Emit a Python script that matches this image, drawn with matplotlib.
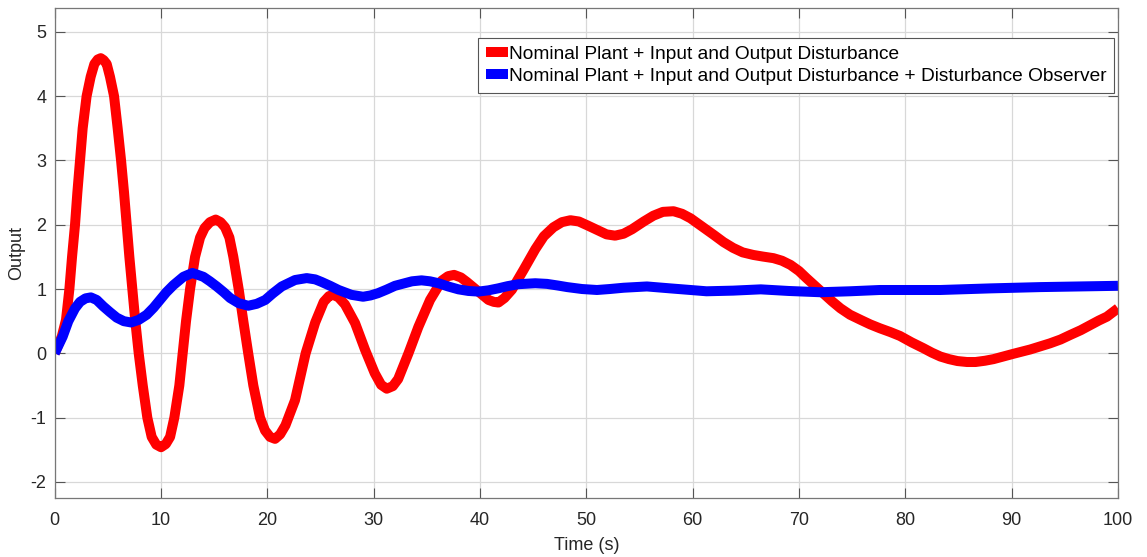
import matplotlib
matplotlib.use("Agg")
import matplotlib.pyplot as plt

# Curva roja: planta nominal + perturbacion de entrada y salida
t_rojo = [0, 0.66, 1.06, 1.38, 1.63, 1.91, 2.13, 2.38, 2.63, 3.0, 3.38, 3.73, 4.05,
          4.33, 4.6, 4.89, 5.2, 5.58, 5.92, 6.24, 6.52, 6.77, 7.02, 7.3, 7.58, 7.9,
          8.28, 8.71, 9.12, 9.55, 10.0, 10.45, 10.85, 11.25, 11.72, 12.04, 12.35,
          12.73, 13.2, 13.67, 14.1, 14.6, 15.14, 15.6, 16.02, 16.43, 16.8, 17.3,
          17.74, 18.2, 18.68, 19.31, 19.78, 20.25, 20.72, 21.2, 21.7, 22.6, 23.6,
          24.5, 25.3, 25.8, 26.2, 26.7, 27.3, 28.25, 29.2, 30.1, 30.7, 31.23, 31.8,
          32.3, 33.27, 34.2, 35.3, 36.4, 37.0, 37.56, 38.2, 38.76, 39.85, 40.8, 41.3,
          41.73, 42.3, 43.0, 44.1, 45.2, 46.0, 46.9, 47.7, 48.5, 49.3, 50.1, 51.0,
          51.9, 52.7, 53.5, 54.3, 55.4, 56.3, 57.2, 58.2, 59.0, 59.8, 60.9, 62.0,
          62.9, 63.8, 64.7, 65.7, 66.6, 67.6, 68.4, 69.2, 70.0, 70.7, 71.5, 72.3,
          73.1, 73.9, 74.8, 75.8, 76.7, 77.6, 78.6, 79.5, 80.6, 81.7, 82.5, 83.3,
          84.1, 84.9, 85.8, 86.6, 87.5, 88.3, 89.2, 90.1, 91.75, 93.6, 94.6, 95.5,
          96.5, 97.4, 98.2, 98.96, 100]
y_rojo = [0, 0.26, 0.52, 1.0, 1.5, 2.0, 2.5, 3.0, 3.5, 4.0, 4.3, 4.5, 4.57,
          4.59, 4.56, 4.5, 4.3, 4.0, 3.5, 3.0, 2.5, 2.0, 1.5, 1.0, 0.5, 0.0,
          -0.5, -1.0, -1.3, -1.42, -1.46, -1.41, -1.3, -1.0, -0.5, 0.0, 0.5,
          1.0, 1.5, 1.8, 1.95, 2.04, 2.08, 2.04, 1.96, 1.8, 1.5, 1.0,
          0.5, 0.0, -0.5, -1.0, -1.2, -1.3, -1.33, -1.26, -1.12, -0.73, 0.0,
          0.48, 0.80, 0.89, 0.91, 0.87, 0.76, 0.47, 0.05, -0.31, -0.49, -0.55, -0.51,
          -0.40, 0.0, 0.41, 0.83, 1.13, 1.2, 1.22, 1.18, 1.11, 0.96, 0.83, 0.8,
          0.79, 0.86, 0.99, 1.30, 1.62, 1.82, 1.96, 2.04, 2.07, 2.05, 1.99, 1.92,
          1.85, 1.83, 1.86, 1.93, 2.05, 2.14, 2.2, 2.21, 2.17, 2.1, 1.97, 1.84,
          1.73, 1.64, 1.57, 1.53, 1.505, 1.48, 1.44, 1.375, 1.28, 1.17, 1.05, 0.93,
          0.81, 0.70, 0.60, 0.52, 0.45, 0.39, 0.33, 0.27, 0.17, 0.08, 0.01, -0.05,
          -0.09, -0.12, -0.135, -0.135, -0.115, -0.09, -0.05, -0.01, 0.06, 0.155, 0.215, 0.285,
          0.36, 0.44, 0.51, 0.57, 0.70]

# Curva azul: con observador de perturbaciones
t_azul = [0, 0.75, 1.28, 1.91, 2.38, 2.9, 3.4, 3.95, 4.57, 5.2, 5.83, 6.5, 7.18, 7.9,
          8.65, 9.3, 9.9, 10.5, 11.16, 12.1, 12.95, 13.98, 14.6, 15.24, 15.9, 16.5,
          17.3, 18.2, 19.0, 19.8, 20.5, 21.35, 22.6, 23.7, 24.5, 25.1, 25.9, 26.7,
          27.9, 29.0, 29.7, 30.4, 31.2, 32.0, 33.6, 34.5, 35.3, 36.1, 37.0, 37.97,
          38.9, 39.85, 40.8, 41.7, 42.6, 43.6, 45.2, 46.3, 47.3, 48.2, 49.6, 51.0,
          52.2, 53.5, 55.7, 57.9, 59.8, 61.3, 63.8, 66.4, 69.0, 72.0, 74.8, 77.6,
          83.3, 88.0, 92.7, 100]
y_azul = [0, 0.26, 0.5, 0.7, 0.8, 0.855, 0.87, 0.83, 0.73, 0.64, 0.555, 0.5, 0.48, 0.52,
          0.60, 0.71, 0.83, 0.95, 1.06, 1.19, 1.25, 1.19, 1.12, 1.04, 0.95, 0.86,
          0.78, 0.74, 0.77, 0.83, 0.93, 1.04, 1.14, 1.17, 1.15, 1.11, 1.05, 0.985,
          0.91, 0.88, 0.9, 0.935, 0.99, 1.05, 1.12, 1.135, 1.12, 1.09, 1.04, 0.995,
          0.97, 0.96, 0.98, 1.01, 1.045, 1.075, 1.09, 1.08, 1.055, 1.03, 1.0, 0.985,
          1.0, 1.02, 1.04, 1.01, 0.985, 0.965, 0.975, 0.995, 0.97, 0.95, 0.965, 0.985,
          0.985, 1.01, 1.03, 1.05]

etiquetas = ["Nominal Plant + Input and Output Disturbance",
             "Nominal Plant + Input and Output Disturbance + Disturbance Observer"]

plt.rcParams['font.family'] = ['Liberation Sans', 'DejaVu Sans']
plt.rcParams['axes.unicode_minus'] = False

fig = plt.figure(figsize=(11.47, 5.57), dpi=100)
ax = fig.add_axes([0.0477, 0.1059, 0.9270, 0.8797])

ax.plot(t_rojo, y_rojo, color=(1, 0, 0), linewidth=7.2, label=etiquetas[0],
        solid_joinstyle='round', solid_capstyle='butt')
ax.plot(t_azul, y_azul, color=(0, 0, 1), linewidth=7.2, label=etiquetas[1],
        solid_joinstyle='round', solid_capstyle='butt')

ax.set_xlim(0, 100)
ax.set_ylim(-2.25, 5.37)
ax.set_xticks(range(0, 101, 10))
ax.set_yticks(range(-2, 6))
ax.grid(True, color='#d8d8d8', linewidth=0.9)
ax.set_axisbelow(True)
ax.tick_params(direction='in', length=7, width=0.8, top=True, right=True,
               labelsize=13, colors='#555555', labelcolor='#262626', pad=6)
ax.tick_params(axis='x', pad=10)
for s in ax.spines.values():
    s.set_color('#777777')
    s.set_linewidth(0.9)

ax.set_xlabel("Time (s)", fontsize=13, color='#262626', labelpad=6)
ax.set_ylabel("Output", fontsize=13, color='#262626')
ax.yaxis.set_label_coords(-0.028, 0.5)

leg = ax.legend(loc='upper right', bbox_to_anchor=(0.9962, 0.939), borderaxespad=0,
                fontsize=13.8, handlelength=1.15, handletextpad=0.05, fancybox=False,
                framealpha=1, edgecolor='#555555', borderpad=0.4, labelspacing=0.25)
leg.get_frame().set_linewidth(0.8)

fig.savefig("out.png", dpi=100, facecolor='white')
